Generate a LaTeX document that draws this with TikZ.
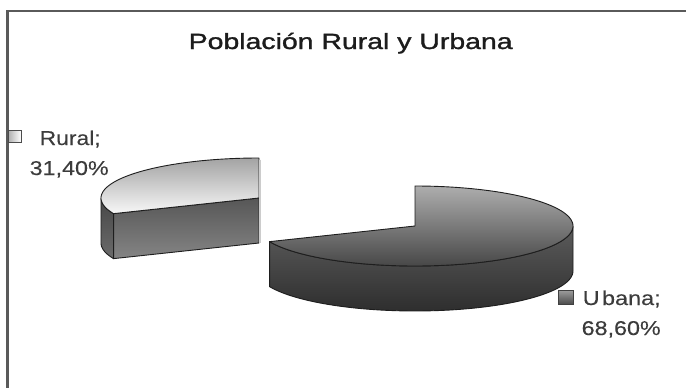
\documentclass[tikz,border=0pt]{standalone}
\usepackage{fontspec}
\usepackage{graphicx}
\setmainfont{Liberation Sans}
\newfontfamily\titfont{Liberation Sans}[FakeBold=1.2]
\newfontfamily\labfont{Liberation Sans}[FakeBold=0.15]
\definecolor{framec}{HTML}{5A5A5A}
\definecolor{outl}{HTML}{1E1E1E}
\definecolor{labc}{HTML}{3C3C3C}
\definecolor{titc}{HTML}{1C1C1C}
\tikzset{
  lab/.style={anchor=base west, inner sep=0pt, text=labc, font=\labfont\fontsize{20}{20}\selectfont},
  titl/.style={anchor=base west, inner sep=0pt, text=titc, font=\titfont\fontsize{22}{22}\selectfont},
  edge/.style={draw=outl, line width=0.9pt, line join=round},
}
\begin{document}
\begin{tikzpicture}[x=1pt,y=-1pt]
\useasboundingbox (0,0) rectangle (686,388);
\fill[white] (0,0) rectangle (686,388);
% frame
\draw[framec, line width=2.6pt] (7.3,388) -- (7.3,11) -- (686,11);
% title
\node[titl] (title) at (188.5,49) {\resizebox{324pt}{\height}{Población Rural y Urbana}};

% ---------- Urbana slice (center 415,226; a=158, b=40, h=45)
\path[edge, top color=black!64, middle color=black!72, bottom color=black!82]
  plot[domain=203:360,samples=80] ({415+158*cos(\x)},{226-40*sin(\x)})
  -- plot[domain=360:203,samples=80] ({415+158*cos(\x)},{271-40*sin(\x)}) -- cycle;
\path[edge, top color=black!32, middle color=black!46, bottom color=black!72]
  (415,226) -- plot[domain=203:450,samples=140] ({415+158*cos(\x)},{226-40*sin(\x)}) -- cycle;

% ---------- Rural slice (center 259,198)
\coordinate (rc) at (259,198);
\coordinate (rp) at ({259+158*cos(203)},{198-40*sin(203)});
\coordinate (rcb) at (259,243);
\coordinate (rpb) at ({259+158*cos(203)},{243-40*sin(203)});
% curved side
\path[edge, top color=black!72, bottom color=black!58]
  plot[domain=180:203,samples=20] ({259+158*cos(\x)},{198-40*sin(\x)})
  -- plot[domain=203:180,samples=20] ({259+158*cos(\x)},{243-40*sin(\x)}) -- cycle;
% cut face
\path[edge, top color=black!66, middle color=black!58, bottom color=black!48]
  (rc) -- (rp) -- (rpb) -- (rcb) -- cycle;
% top face
\path[edge, top color=black!36, middle color=black!15, bottom color=black!3]
  (rc) -- plot[domain=90:203,samples=100] ({259+158*cos(\x)},{198-40*sin(\x)}) -- cycle;
% light back edge
\draw[black!20, line width=1.6pt] (260.2,159.5) -- (260.2,242.5);

% ---------- legend keys and labels
\node[draw=black!70, line width=0.8pt, left color=black!30, right color=white,
      minimum width=12.5pt, minimum height=12.5pt, inner sep=0pt] (kr) at (15,136.5) {};
\node[lab] (lr1) at (39.5,145) {\resizebox{61pt}{\height}{Rural;}};
\node[lab] (lr2) at (29.5,175) {\resizebox{79pt}{\height}{31,40\%}};

\node[draw=black!75, line width=0.8pt, top color=black!38, bottom color=black!70,
      minimum width=15pt, minimum height=14pt, inner sep=0pt] (ku) at (566,297) {};
\node[lab] (lu1) at (582.5,305) {\resizebox{78pt}{\height}{U\kern2pt bana;}};
\node[lab] (lu2) at (581.5,335) {\resizebox{79pt}{\height}{68,60\%}};
\end{tikzpicture}
\end{document}
